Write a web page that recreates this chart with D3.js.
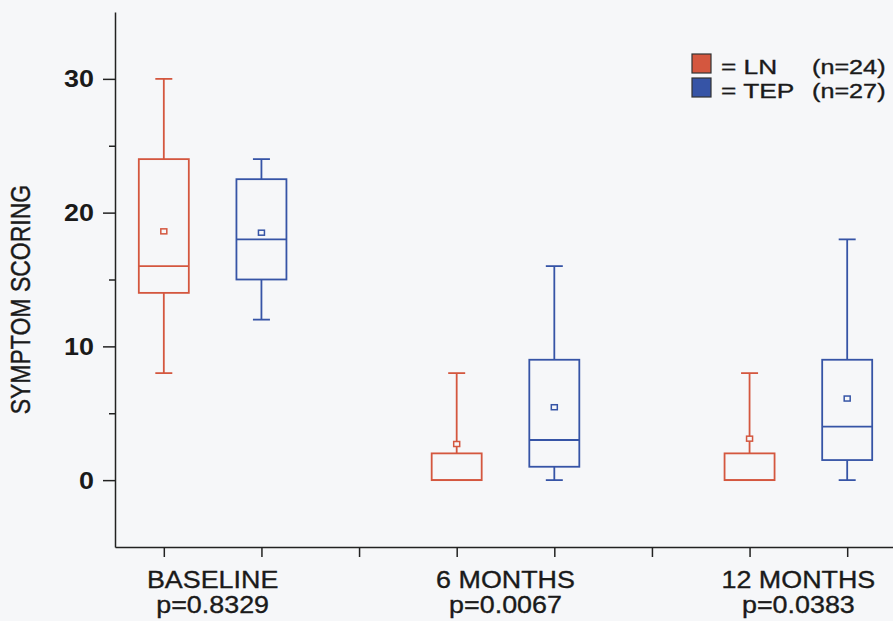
<!DOCTYPE html>
<html lang="en">
<head>
<meta charset="UTF-8">
<title>Symptom scoring box plot</title>
<script src="https://d3js.org/d3.v7.min.js"></script>
<style>
  body { margin: 0; background: #f6f7f9; font-family: "Liberation Sans", Arial, sans-serif; }
  svg { display: block; }
  .axis path, .axis line { stroke: #222; stroke-width: 1.5; }
  .lbl { fill: #1a1a1a; stroke: #1a1a1a; stroke-width: 0.35; font-family: "Liberation Sans", Arial, sans-serif; }
</style>
</head>
<body>
<div id="chart"></div>
<script>
// data
const timepoints = ["BASELINE", "6 MONTHS", "12 MONTHS"];
const pValues = ["p=0.8329", "p=0.0067", "p=0.0383"];
const groups = ["LN", "TEP"];
const groupN = ["(n=24)", "(n=27)"];
const groupColors = ["#d4573f", "#3654a6"];
// [min, q1, median, q3, max, mean]
const lnStats = [
  [8, 14, 16, 24, 30, 18.6],
  [0, 0, 0, 2, 8, 2.7],
  [0, 0, 0, 2, 8, 3.1]
];
const tepStats = [
  [12, 15, 18, 22.5, 24, 18.5],
  [0, 1, 3, 9, 16, 5.45],
  [0, 1.5, 4, 9, 18, 6.1]
];
const yMajor = [0, 10, 20, 30];
const yMinor = [5, 15, 25];

const W = 893, H = 621;
const bg = "#f6f7f9";
const sx = 1.12; // lettering in the original is a bit wide
const svg = d3.select("#chart").append("svg").attr("width", W).attr("height", H)
  .style("background", bg);

const x = d3.scaleLinear().domain([0.5, 8.5]).range([115, 896]);
const y = d3.scaleLinear().domain([-5, 35]).range([547, 12]);

// axes
svg.append("g").attr("class", "axis")
  .attr("transform", "translate(115,0)")
  .call(d3.axisLeft(y).tickValues(yMajor).tickSize(12).tickSizeOuter(0).tickFormat(""));
svg.append("g").attr("class", "axis")
  .attr("transform", "translate(115,0)")
  .call(d3.axisLeft(y).tickValues(yMinor).tickSize(6).tickSizeOuter(0).tickFormat(""))
  .select(".domain").remove();
svg.append("g").attr("class", "axis")
  .attr("transform", "translate(0,547)")
  .call(d3.axisBottom(x).tickValues(d3.range(1, 9)).tickSize(10).tickSizeOuter(0).tickFormat(""));

// y tick labels
yMajor.forEach(v => {
  svg.append("text").attr("class", "lbl")
    .attr("transform", `translate(94,${y(v) + 8.5}) scale(${sx},1)`)
    .attr("text-anchor", "end").attr("font-size", 24).attr("font-weight", "bold")
    .style("stroke-width", 0)
    .text(v);
});

// y label
svg.append("text").attr("class", "lbl")
  .attr("transform", `translate(30,${y(13.5)}) scale(1.2,1) rotate(-90)`)
  .attr("text-anchor", "middle")
  .attr("font-size", 23)
  .text("SYMPTOM SCORING");

// category labels
timepoints.forEach((t, i) => {
  const cx = x(i * 3 + 1.5);
  svg.append("text").attr("class", "lbl")
    .attr("transform", `translate(${cx},588) scale(${sx},1)`)
    .attr("text-anchor", "middle").attr("font-size", 24).text(t);
  svg.append("text").attr("class", "lbl")
    .attr("transform", `translate(${cx},613) scale(${sx},1)`)
    .attr("text-anchor", "middle").attr("font-size", 24).text(pValues[i]);
});

// boxes
const boxW = 50, capW = 17;
function drawBox(s, pos, color) {
  const g = svg.append("g").attr("stroke", color).attr("stroke-width", 1.8).attr("fill", "none");
  const cx = x(pos);
  const [mn, q1, md, q3, mx, mean] = s;
  if (mx > q3) {
    g.append("line").attr("x1", cx).attr("x2", cx).attr("y1", y(q3)).attr("y2", y(mx));
    g.append("line").attr("x1", cx - capW / 2).attr("x2", cx + capW / 2).attr("y1", y(mx)).attr("y2", y(mx));
  }
  if (mn < q1) {
    g.append("line").attr("x1", cx).attr("x2", cx).attr("y1", y(q1)).attr("y2", y(mn));
    g.append("line").attr("x1", cx - capW / 2).attr("x2", cx + capW / 2).attr("y1", y(mn)).attr("y2", y(mn));
  }
  g.append("rect").attr("x", cx - boxW / 2).attr("y", y(q3))
    .attr("width", boxW).attr("height", y(q1) - y(q3)).attr("fill", bg);
  g.append("line").attr("x1", cx - boxW / 2).attr("x2", cx + boxW / 2).attr("y1", y(md)).attr("y2", y(md));
  // mean marker
  g.append("rect").attr("x", cx - 3).attr("y", y(mean) - 2.5).attr("width", 6).attr("height", 5)
    .attr("stroke-width", 1.5).attr("fill", bg);
}
timepoints.forEach((t, i) => {
  drawBox(lnStats[i], i * 3 + 1, groupColors[0]);
  drawBox(tepStats[i], i * 3 + 2, groupColors[1]);
});

// legend
groups.forEach((g, i) => {
  const ly = 54 + i * 24;
  svg.append("rect").attr("x", 692).attr("y", ly).attr("width", 19).attr("height", 19)
    .attr("fill", groupColors[i]).attr("stroke", "#333").attr("stroke-width", 1.2);
  svg.append("text").attr("class", "lbl")
    .attr("transform", `translate(721,${ly + 20}) scale(1.25,1)`)
    .attr("font-size", 21).text("= " + g);
  svg.append("text").attr("class", "lbl")
    .attr("transform", `translate(812,${ly + 20}) scale(1.2,1)`)
    .attr("font-size", 21).text(groupN[i]);
});
</script>
</body>
</html>
